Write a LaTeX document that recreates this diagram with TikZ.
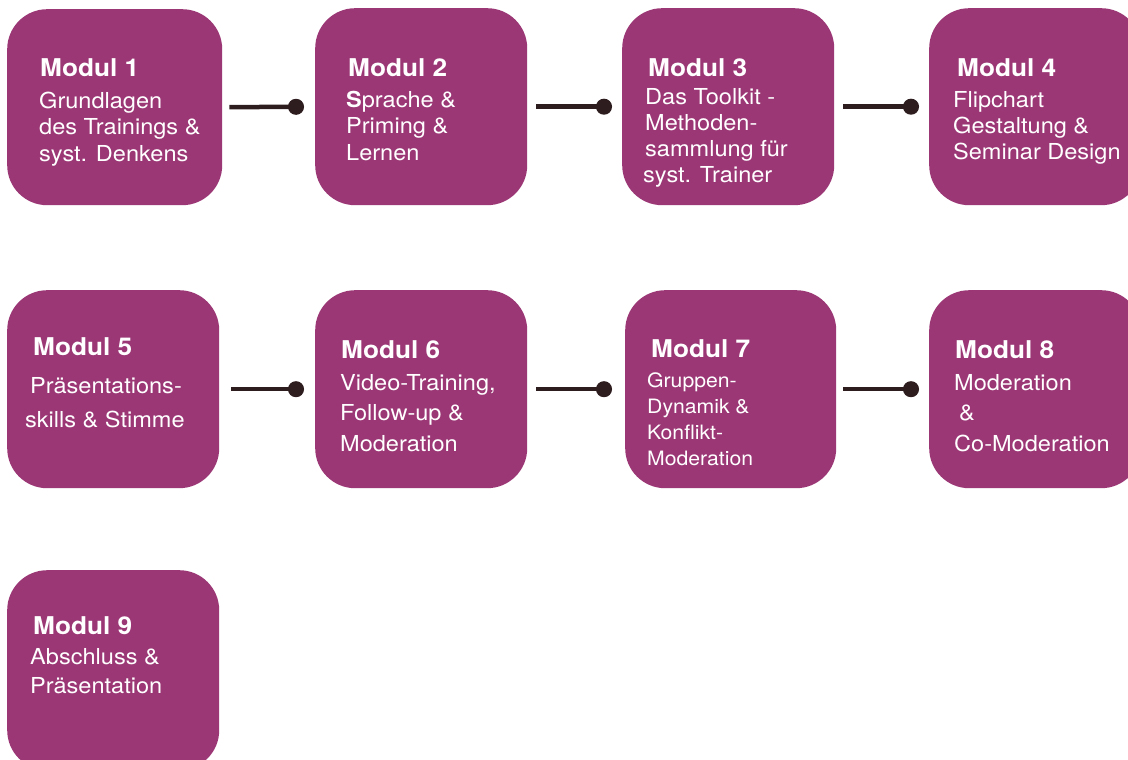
\documentclass[tikz,border=0pt]{standalone}
\usepackage{fontspec}
\setmainfont[FakeStretch=1.07]{TeX Gyre Heros}
\usetikzlibrary{arrows.meta}
\definecolor{modcol}{RGB}{155,55,117}
\definecolor{conncol}{RGB}{46,29,31}
\tikzset{
  modbox/.style={anchor=north west, fill=modcol, draw=none, rounded corners=40pt,
    inner sep=0pt, minimum width=#1},
  modbox/.default=212pt,
  modtitle/.style={anchor=base west, inner sep=0pt, text=white,
    font=\bfseries\fontsize{24.5}{28}\selectfont},
  modbody/.style={anchor=base west, inner sep=0pt, text=white,
    font=\fontsize{#1}{26}\selectfont},
  modbody/.default=22,
  conn/.style={draw=conncol, line width=4.5pt, -{Circle[length=16pt,width=16pt]}}
}
\begin{document}
\begin{tikzpicture}[x=1pt,y=-1pt]
\useasboundingbox (0,0) rectangle (1128,760);
% row 1
\node[modbox=215pt, minimum height=196pt] (b1) at (7,9) {};
\node[modbox, minimum height=197pt] (b2) at (315,8) {};
\node[modbox, minimum height=197pt] (b3) at (622,8) {};
\node[modbox, minimum height=197pt] (b4) at (929,8) {};
% row 2
\node[modbox, minimum height=198pt] (b5) at (7,290) {};
\node[modbox, minimum height=198pt] (b6) at (315,290) {};
\node[modbox=211pt, minimum height=198pt] (b7) at (625,290) {};
\node[modbox, minimum height=198pt] (b8) at (929,290) {};
% row 3
\node[modbox, minimum height=200pt] (b9) at (7,570) {};

% texts
\node[modtitle] (t1) at (40,77) {Modul 1};
\foreach \s [count=\i] in {Grundlagen, des Trainings \&, syst. Denkens}
  \node[modbody] (x1-\i) at (39,{109+26*(\i-1)}) {\s};
\node[modtitle] (t2) at (348,77) {Modul 2};
\foreach \s [count=\i] in {\textbf{S}prache \&, Priming \&, Lernen}
  \node[modbody] (x2-\i) at (346,{107+26.5*(\i-1)}) {\s};
\node[modtitle] (t3) at (648,77) {Modul 3};
\foreach \s [count=\i] in {Das Toolkit -, Methoden-, sammlung für, \hspace*{-2pt}syst. Trainer}
  \node[modbody] (x3-\i) at (645,{105+25.7*(\i-1)}) {\s};
\node[modtitle] (t4) at (957,77) {Modul 4};
\foreach \s [count=\i] in {Flipchart, Gestaltung \&, Seminar Design}
  \node[modbody] (x4-\i) at (953,{107+26*(\i-1)}) {\s};
\node[modtitle] (t5) at (33,355) {Modul 5};
\foreach \s [count=\i] in {Präsentations-, \hspace*{-5pt}skills \& Stimme}
  \node[modbody] (x5-\i) at (30,{393+34*(\i-1)}) {\s};
\node[modtitle] (t6) at (341,358) {Modul 6};
\foreach \s [count=\i] in {{Video-Training,}, Follow-up \&, Moderation}
  \node[modbody] (x6-\i) at (340,{390+30.5*(\i-1)}) {\s};
\node[modtitle] (t7) at (651,357) {Modul 7};
\foreach \s [count=\i] in {Gruppen-, Dynamik \&, Konflikt-, Moderation}
  \node[modbody=19.8] (x7-\i) at (647,{387+26*(\i-1)}) {\s};
\node[modtitle] (t8) at (955,358) {Modul 8};
\foreach \s [count=\i] in {Moderation, \hspace*{5pt}\&, Co-Moderation}
  \node[modbody] (x8-\i) at (954,{390+30.5*(\i-1)}) {\s};
\node[modtitle] (t9) at (33,634) {Modul 9};
\foreach \s [count=\i] in {Abschluss \&, Präsentation}
  \node[modbody] (x9-\i) at (30,{664+29*(\i-1)}) {\s};

% connectors
\draw[conn, shorten <=7pt, shorten >=11pt] (b1.east) -- (b2.west);
\draw[conn, shorten <=9pt, shorten >=10pt] (b2.east) -- (b3.west);
\draw[conn, shorten <=9pt, shorten >=10pt] (b3.east) -- (b4.west);
\draw[conn, shorten <=12pt, shorten >=11pt] (b5.east) -- (b6.west);
\draw[conn, shorten <=9pt, shorten >=13pt] (b6.east) -- (b7.west);
\draw[conn, shorten <=7pt, shorten >=10pt] (b7.east) -- (b8.west);
\end{tikzpicture}
\end{document}
